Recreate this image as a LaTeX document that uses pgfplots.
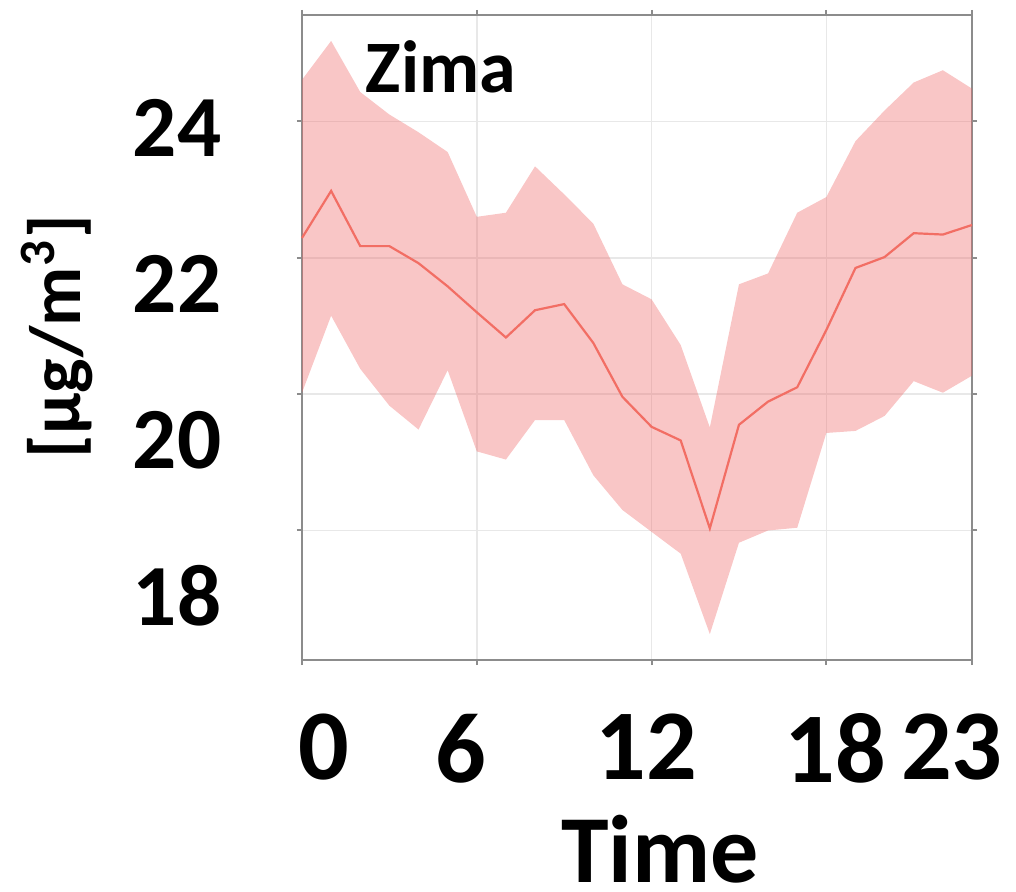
\documentclass[border=0pt]{standalone}
\usepackage{fontspec}
\setmainfont{Carlito}
\usepackage{pgfplots}
\pgfplotsset{compat=1.18}
\usepgfplotslibrary{fillbetween}
\definecolor{bandfill}{RGB}{240,100,100}
\definecolor{meanline}{RGB}{242,110,100}
\definecolor{axgray}{RGB}{140,140,140}
\definecolor{gridgray}{RGB}{232,232,232}

\pgfplotstableread{
h mean upper lower
0 22.29 24.61 20.02
1 22.98 25.18 21.15
2 22.17 24.43 20.37
3 22.17 24.10 19.83
4 21.92 23.84 19.48
5 21.58 23.55 20.35
6 21.20 22.60 19.16
7 20.83 22.66 19.04
8 21.23 23.34 19.62
9 21.32 22.93 19.62
10 20.75 22.50 18.81
11 19.96 21.61 18.30
12 19.52 21.39 17.98
13 19.32 20.72 17.66
14 18.03 19.51 16.48
15 19.55 21.61 17.82
16 19.89 21.77 18.00
17 20.10 22.66 18.04
18 20.94 22.89 19.43
19 21.85 23.71 19.46
20 22.01 24.16 19.68
21 22.36 24.57 20.19
22 22.34 24.75 20.02
23 22.48 24.48 20.27
}\datatable

\begin{document}
\begin{tikzpicture}
\begin{axis}[
  at={(0,0)}, anchor=south west,
  scale only axis, width=167.5pt, height=161.25pt,
  xmin=0, xmax=23, ymin=16.10, ymax=25.56,
  xtick={0,6,12,18,23}, xticklabels={},
  ytick={18,20,22,24}, yticklabels={},
  grid=major, major grid style={gridgray, line width=0.4pt},
  axis line style={axgray, line width=0.7pt},
  tick style={axgray, line width=0.5pt},
  tick align=outside, major tick length=1.3pt,
  extra x ticks={0.74,5.44,11.81,18.31,22.31},
  extra x tick labels={0,6,12,18,23},
  extra y ticks={23.897,21.618,19.324,17.044},
  extra y tick labels={24,22,20,18},
  extra tick style={major tick length=0pt, grid=none},
  xticklabel style={font=\fontsize{25}{25}\selectfont\bfseries, anchor=north, inner sep=0pt, yshift=-13.25pt},
  yticklabel style={font=\fontsize{21.8}{22}\selectfont\bfseries, anchor=east, inner sep=0pt, xshift=-20pt},
  xlabel={Time},
  xlabel style={font=\fontsize{24}{24}\selectfont\bfseries, at={(rel axis cs:0.5343,-0.3442)}, anchor=base, inner sep=0pt},
  ylabel={[µg/m\textsuperscript{3}]},
  ylabel style={font=\fontsize{18.2}{18.2}\selectfont\bfseries, at={(rel axis cs:-0.3657,0.5008)}, anchor=center, inner sep=0pt},
  clip=false,
]
\addplot[name path=up, draw=none, forget plot] table[x=h, y=upper] {\datatable};
\addplot[name path=lo, draw=none, forget plot] table[x=h, y=lower] {\datatable};
\addplot[bandfill, fill opacity=0.37, draw=none] fill between[of=up and lo];
\addplot[meanline, line width=0.55pt, mark=none] table[x=h, y=mean] {\datatable};
\node[anchor=base west, inner sep=0pt, font=\fontsize{18.5}{18.5}\selectfont\bfseries] at (axis cs:2.16,24.43) {Zima};
\end{axis}
\pgfresetboundingbox
\path (-75.5pt,-57.75pt) rectangle (178.5pt,165pt);
\end{tikzpicture}
\end{document}
